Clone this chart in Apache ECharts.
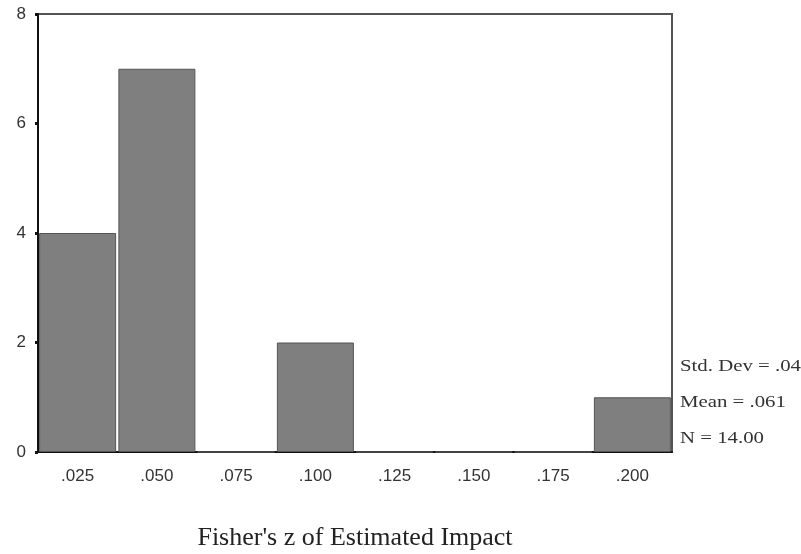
<!DOCTYPE html>
<html>
<head>
<meta charset="utf-8">
<script src="https://cdn.jsdelivr.net/npm/echarts@6/dist/echarts.min.js"></script>
<style>
  html, body { margin: 0; padding: 0; background: #fff; }
  #chart { width: 801px; height: 554px; }
</style>
</head>
<body>
<div id="chart"></div>
<script>
// histogram bins and counts
const categories = ['.025', '.050', '.075', '.100', '.125', '.150', '.175', '.200'];
const counts = [4, 7, 0, 2, 0, 0, 0, 1];
const yTicks = [0, 2, 4, 6, 8];
const stats = ['Std. Dev = .04', 'Mean = .061', 'N = 14.00'];

const chart = echarts.init(document.getElementById('chart'));

chart.setOption({
  animation: false,
  backgroundColor: '#fff',
  grid: {
    left: 38,
    right: 129,
    top: 14,
    bottom: 102,
    outerBoundsMode: 'none',
    show: true,
    borderColor: '#555',
    borderWidth: 2,
    backgroundColor: 'transparent'
  },
  xAxis: {
    type: 'category',
    data: categories,
    name: "Fisher's z of Estimated Impact",
    nameLocation: 'middle',
    nameGap: 73,
    nameTextStyle: {
      fontFamily: 'Liberation Serif',
      fontSize: 26,
      color: '#222'
    },
    axisLine: {lineStyle: {color: '#111', width: 2}},
    axisTick: {
      alignWithLabel: true,
      length: 4,
      lineStyle: {color: '#111', width: 3}
    },
    axisLabel: {
      fontFamily: 'Liberation Sans',
      fontSize: 17,
      color: '#333',
      margin: 16
    },
    splitLine: {show: false}
  },
  yAxis: {
    type: 'value',
    min: yTicks[0],
    max: yTicks[yTicks.length - 1],
    interval: 2,
    axisLine: {show: true, lineStyle: {color: '#111', width: 2}},
    axisTick: {show: true, length: 3, lineStyle: {color: '#111', width: 3}},
    axisLabel: {
      fontFamily: 'Liberation Sans',
      fontSize: 17,
      color: '#333',
      margin: 12
    },
    splitLine: {show: false}
  },
  series: [
    {
      type: 'bar',
      data: counts,
      barWidth: 77,
      itemStyle: {
        color: '#7f7f7f',
        borderColor: '#555',
        borderWidth: 1
      }
    }
  ],
  graphic: stats.map((s, i) => ({
    type: 'text',
    x: 680,
    y: 359 + i * 36,
    scaleX: 1.3,
    style: {
      text: s,
      font: '16px "Liberation Serif"',
      fill: '#333'
    }
  }))
});
</script>
</body>
</html>
